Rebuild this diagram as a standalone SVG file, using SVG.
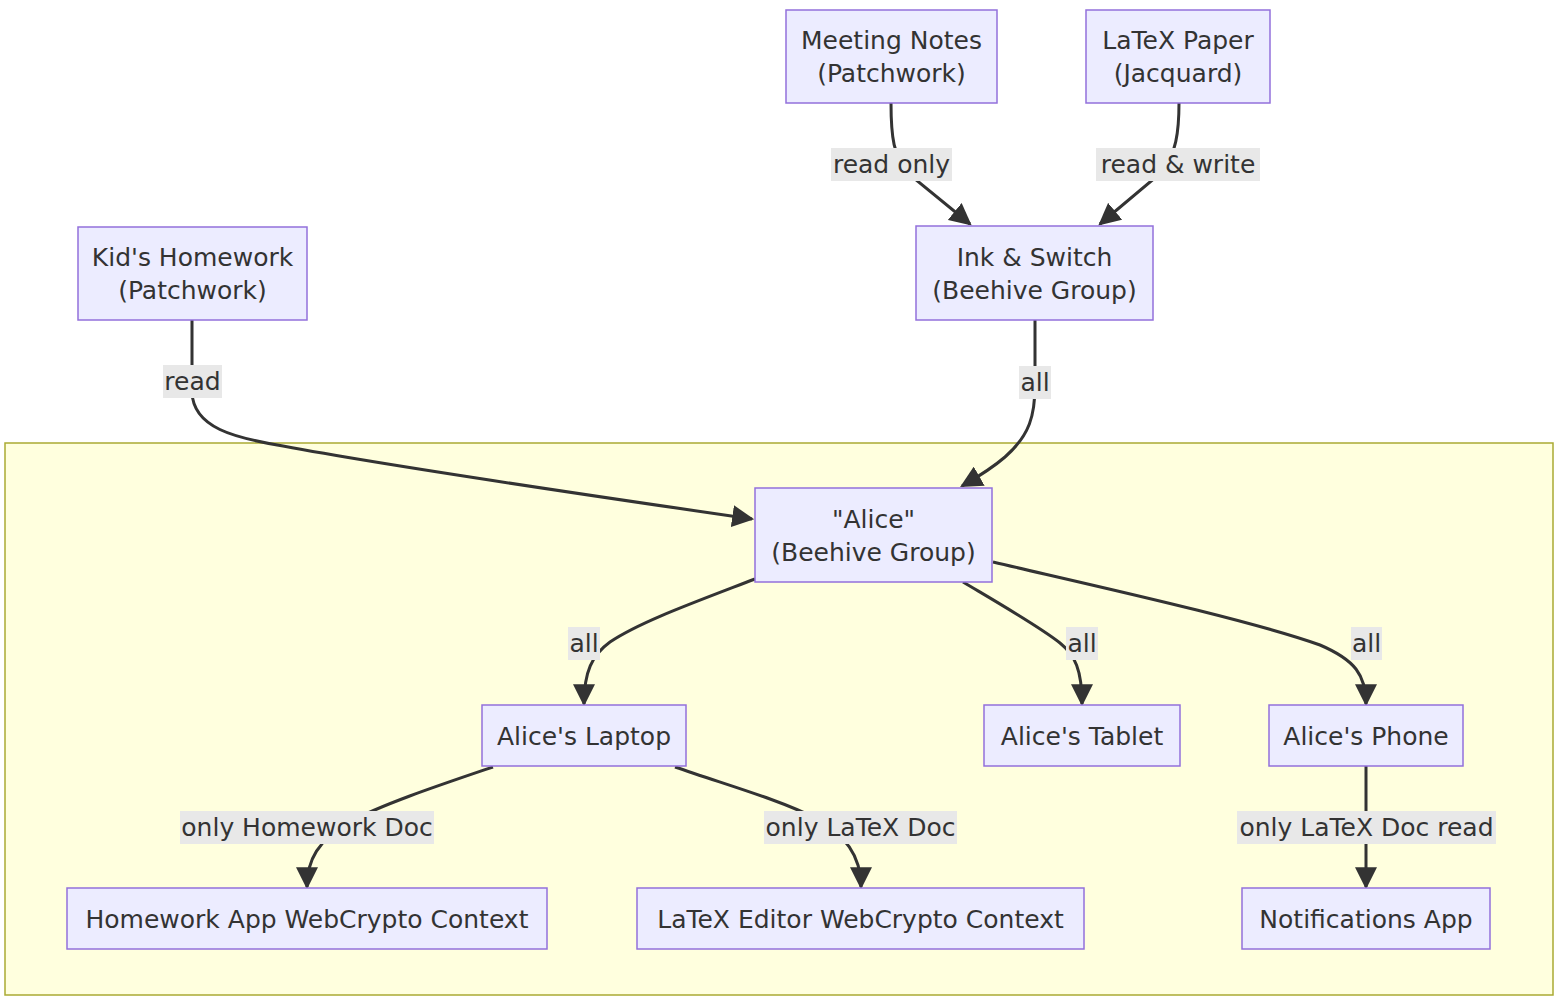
<svg xmlns="http://www.w3.org/2000/svg" width="1558" height="1000" viewBox="0 0 1558 1000">
<style>
.node rect{fill:#ECECFF;stroke:#9370DB;stroke-width:1.5}
.node text,.lbl text{font-family:"DejaVu Sans","Liberation Sans",sans-serif;font-size:25px;fill:#333;text-anchor:middle;dominant-baseline:central}
.edge{fill:none;stroke:#333;stroke-width:3;marker-end:url(#arr)}
.lbl rect{fill:#e8e8e8}
.cluster{fill:#ffffde;stroke:#aaaa33;stroke-width:1.5}
</style>
<defs>
<marker id="arr" viewBox="0 0 10 10" refX="9" refY="5" markerUnits="userSpaceOnUse" markerWidth="22" markerHeight="22" orient="auto">
<path d="M0,0 L10,5 L0,10 z" fill="#333"/>
</marker>
</defs>
<rect width="1558" height="1000" fill="#fff"/>
<g id="cluster-alice"><rect class="cluster" x="5" y="443" width="1548" height="552"/></g>
<g id="connectors">
<path class="edge" d="M891,103 C891,135 893,158 910,175 L970,224"/>
<path class="edge" d="M1179,103 C1179,132 1176,154 1162,172 L1100,224"/>
<path class="edge" d="M192,320 L192,392 C193,428 235,438 283,446 C400,468 600,497 752,519"/>
<path class="edge" d="M1035,320 L1035,385 C1035,415 1030,435 1005,457 C990,470 976,478 962,486"/>
<path class="edge" d="M755,579 C690,604 640,622 610,642 C592,655 584,672 584,704"/>
<path class="edge" d="M963,582 C1000,604 1040,627 1060,643 C1075,655 1082,670 1082,704"/>
<path class="edge" d="M993,562 C1100,587 1250,620 1320,645 C1355,660 1366,675 1366,704"/>
<path class="edge" d="M493,767 C440,785 380,805 350,822 C318,840 307,860 307,887"/>
<path class="edge" d="M675,767 C730,786 780,800 815,818 C845,835 861,855 861,887"/>
<path class="edge" d="M1366,766 L1366,887"/>
</g>
<g id="edge-labels">
<g class="lbl"><rect x="831" y="148" width="121" height="33"/><text x="891.5" y="164.5">read only</text></g>
<g class="lbl"><rect x="1096" y="148" width="164" height="33"/><text x="1178" y="164.5">read &amp; write</text></g>
<g class="lbl"><rect x="163" y="365" width="59" height="33"/><text x="192.5" y="381.5">read</text></g>
<g class="lbl"><rect x="1019" y="366" width="32" height="33"/><text x="1035" y="382.5">all</text></g>
<g class="lbl"><rect x="568" y="627" width="32" height="33"/><text x="584" y="643.5">all</text></g>
<g class="lbl"><rect x="1066" y="627" width="32" height="33"/><text x="1082" y="643.5">all</text></g>
<g class="lbl"><rect x="1351" y="627" width="31" height="33"/><text x="1366.5" y="643.5">all</text></g>
<g class="lbl"><rect x="180" y="811" width="254" height="33"/><text x="307" y="827.5">only Homework Doc</text></g>
<g class="lbl"><rect x="764" y="811" width="193" height="33"/><text x="860.5" y="827.5">only LaTeX Doc</text></g>
<g class="lbl"><rect x="1237" y="811" width="259" height="33"/><text x="1366.5" y="827.5">only LaTeX Doc read</text></g>
</g>
<g id="meeting-notes" class="node"><rect x="786" y="10" width="211" height="93"/><text x="891.5" y="40">Meeting Notes</text><text x="891.5" y="73">(Patchwork)</text></g>
<g id="latex-paper" class="node"><rect x="1086" y="10" width="184" height="93"/><text x="1178" y="40">LaTeX Paper</text><text x="1178" y="73">(Jacquard)</text></g>
<g id="kids-homework" class="node"><rect x="78" y="227" width="229" height="93"/><text x="192.5" y="257">Kid's Homework</text><text x="192.5" y="290">(Patchwork)</text></g>
<g id="ink-switch" class="node"><rect x="916" y="226" width="237" height="94"/><text x="1034.5" y="257">Ink &amp; Switch</text><text x="1034.5" y="290">(Beehive Group)</text></g>
<g id="alice" class="node"><rect x="755" y="488" width="237" height="94"/><text x="873.5" y="519">"Alice"</text><text x="873.5" y="552">(Beehive Group)</text></g>
<g id="alice-laptop" class="node"><rect x="482" y="705" width="204" height="61"/><text x="584" y="736">Alice's Laptop</text></g>
<g id="alice-tablet" class="node"><rect x="984" y="705" width="196" height="61"/><text x="1082" y="736">Alice's Tablet</text></g>
<g id="alice-phone" class="node"><rect x="1269" y="705" width="194" height="61"/><text x="1366" y="736">Alice's Phone</text></g>
<g id="homework-app" class="node"><rect x="67" y="888" width="480" height="61"/><text x="307" y="919">Homework App WebCrypto Context</text></g>
<g id="latex-editor" class="node"><rect x="637" y="888" width="447" height="61"/><text x="860.5" y="919">LaTeX Editor WebCrypto Context</text></g>
<g id="notifications-app" class="node"><rect x="1242" y="888" width="248" height="61"/><text x="1366" y="919">Notifications App</text></g>
</svg>
